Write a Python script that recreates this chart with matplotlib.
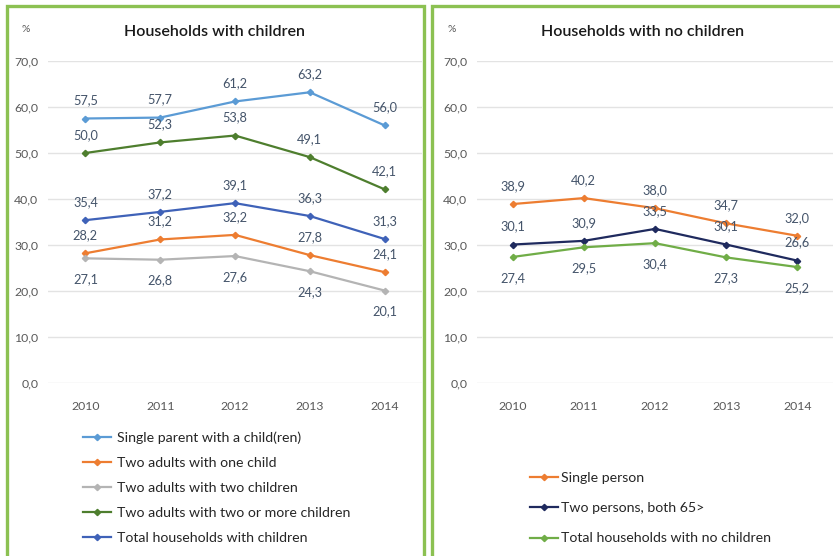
import matplotlib
matplotlib.use("Agg")
import matplotlib.pyplot as plt
from matplotlib.patches import Rectangle

plt.rcParams['font.family'] = ['Lato', 'DejaVu Sans']

years = ["2010", "2011", "2012", "2013", "2014"]
y_ticks = [0, 10, 20, 30, 40, 50, 60, 70]

# Households with children
single_parent = [57.5, 57.7, 61.2, 63.2, 56.0]
two_adults_one_child = [28.2, 31.2, 32.2, 27.8, 24.1]
two_adults_two_children = [27.1, 26.8, 27.6, 24.3, 20.1]
two_adults_two_plus = [50.0, 52.3, 53.8, 49.1, 42.1]
total_with_children = [35.4, 37.2, 39.1, 36.3, 31.3]

# Households with no children
single_person = [38.9, 40.2, 38.0, 34.7, 32.0]
two_persons_65 = [30.1, 30.9, 33.5, 30.1, 26.6]
total_no_children = [27.4, 29.5, 30.4, 27.3, 25.2]

W, H = 840, 556
fig = plt.figure(figsize=(W / 100, H / 100), dpi=100)
fig.patch.set_facecolor("white")

BORDER = "#8CC152"
LABEL_C = "#44546A"
TICK_C = "#595959"


def px_box(x0, y0, x1, y1):
    return [x0 / W, 1 - y1 / H, (x1 - x0) / W, (y1 - y0) / H]


# Panel frames
for x0, x1 in [(7, 424), (432, 846)]:
    fig.add_artist(Rectangle((x0 / W, -0.01), (x1 - x0) / W, 1 - 6 / H + 0.01,
                             transform=fig.transFigure, fill=False,
                             edgecolor=BORDER, linewidth=2.4))


def style_axes(ax, title, title_x):
    ax.set_xlim(-0.5, 4.5)
    ax.set_ylim(0, 70)
    ax.set_yticks(y_ticks)
    ax.set_yticklabels([f"{v:.1f}".replace(".", ",") for v in y_ticks])
    ax.set_xticks(range(len(years)))
    ax.set_xticklabels(years)
    ax.tick_params(axis="both", length=0, labelsize=8.8, colors=TICK_C)
    ax.tick_params(axis="x", pad=13)
    ax.tick_params(axis="y", pad=7)
    ax.grid(axis="y", color="#E3E3E3", linewidth=1.0)
    ax.set_axisbelow(True)
    for s in ax.spines.values():
        s.set_visible(False)
    fig.text(title_x / W, 1 - 32 / H, title, ha="center", va="center",
             fontsize=11.5, color="#1a1a1a", fontweight="semibold")


def plot_series(ax, values, color, label, below=False):
    x = list(range(len(values)))
    ax.plot(x, values, color=color, linewidth=1.6, marker="D",
            markersize=3.2, label=label)
    for xi, v in zip(x, values):
        ax.annotate(f"{v:.1f}".replace(".", ","), (xi, v),
                    xytext=(0, -15 if below else 13), textcoords="offset points",
                    ha="center", va="center", fontsize=9.2, color=LABEL_C)


# Left panel
ax1 = fig.add_axes(px_box(48, 61, 422, 383))
style_axes(ax1, "Households with children", 214)
fig.text(22 / W, 1 - 30 / H, "%", fontsize=7.5, color=TICK_C, va="center")
plot_series(ax1, single_parent, "#5B9BD5", "Single parent with a child(ren)")
plot_series(ax1, two_adults_one_child, "#ED7D31", "Two adults with one child")
plot_series(ax1, two_adults_two_children, "#B4B4B4", "Two adults with two children", below=True)
plot_series(ax1, two_adults_two_plus, "#4E7E2E", "Two adults with two or more children")
plot_series(ax1, total_with_children, "#3F62B8", "Total households with children")
ax1.legend(loc="upper left", bbox_to_anchor=(77 / W, 1 - 426 / H),
           bbox_transform=fig.transFigure, frameon=False, fontsize=10.2,
           handlelength=2.0, handletextpad=0.45, labelspacing=0.92,
           borderaxespad=0, labelcolor="#262626")

# Right panel
ax2 = fig.add_axes(px_box(477, 61, 833, 383))
style_axes(ax2, "Households with no children", 643)
fig.text(448 / W, 1 - 30 / H, "%", fontsize=7.5, color=TICK_C, va="center")
plot_series(ax2, single_person, "#ED7D31", "Single person")
plot_series(ax2, two_persons_65, "#1F2A5E", "Two persons, both 65>")
plot_series(ax2, total_no_children, "#70AD47", "Total households with no children", below=True)
ax2.legend(loc="upper left", bbox_to_anchor=(524 / W, 1 - 466 / H),
           bbox_transform=fig.transFigure, frameon=False, fontsize=10.2,
           handlelength=2.0, handletextpad=0.2, labelspacing=1.3,
           borderaxespad=0, labelcolor="#262626")

fig.savefig("out.png", dpi=100, facecolor="white")
